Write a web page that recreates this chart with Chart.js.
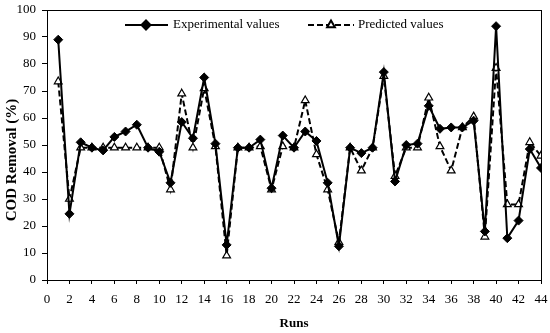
<!DOCTYPE html>
<html lang="en">
<head>
    <meta charset="UTF-8">
    <title>COD Removal</title>
    <script src="https://cdn.jsdelivr.net/npm/chart.js"></script>
    <style>
        html, body { margin: 0; padding: 0; background: #fff; }
    </style>
</head>
<body>
    <canvas id="codChart" width="550" height="333"></canvas>

    <script>
        // runs 1..44
        const runs = Array.from({ length: 44 }, (_, i) => i + 1);
        const experimental = [89, 24.5, 51, 49, 48, 53, 55, 57.5, 49, 47.5,
            36, 58.5, 52.5, 75, 50.5, 13, 49, 49, 52, 34,
            53.5, 49, 55, 51.5, 36, 12.5, 49, 47, 49, 77,
            36.5, 50, 50.5, 64.5, 56, 56.5, 56.5, 59, 18, 94,
            15.5, 22, 48.5, 41.5];
        const predicted = [73.5, 30, 49, 49, 49, 49, 49, 49, 49, 49,
            33.5, 69, 49, 71, 49.5, 9, 49, 49, 49.5, 33.5,
            49.5, 49, 66.5, 46.5, 33.5, 14, 49, 40.5, 49, 75.5,
            38.5, 49, 49, 67.5, 49.5, 40.5, 56.5, 60.5, 16, 78.5,
            28, 28, 51, 46];
        const xTicks = [0, 2, 4, 6, 8, 10, 12, 14, 16, 18, 20, 22, 24, 26, 28, 30, 32, 34, 36, 38, 40, 42, 44];
        const yTicks = [0, 10, 20, 30, 40, 50, 60, 70, 80, 90, 100];
        const yTitle = 'COD Removal (%)';

        const serif = 'Liberation Serif, Times New Roman, serif';

        // box round the plot, y title, legend inside the plot
        const framePlugin = {
            id: 'frame',
            afterDraw(chart) {
                const { ctx, chartArea: a } = chart;
                ctx.save();
                ctx.strokeStyle = '#000';
                ctx.lineWidth = 1;
                ctx.strokeRect(a.left + 0.5, a.top + 0.5, a.right - a.left, a.bottom - a.top);

                // y axis title (sits a bit below the plot middle, like the original)
                ctx.save();
                ctx.translate(12, 160);
                ctx.rotate(-Math.PI / 2);
                ctx.font = 'bold 15px ' + serif;
                ctx.textAlign = 'center';
                ctx.textBaseline = 'middle';
                ctx.fillStyle = '#000';
                ctx.fillText(yTitle, 0, 0);
                ctx.restore();

                const y = a.top + 15;
                ctx.font = '13px ' + serif;
                ctx.textBaseline = 'middle';
                ctx.fillStyle = '#000';

                // Experimental
                ctx.setLineDash([]);
                ctx.lineWidth = 2;
                ctx.beginPath();
                ctx.moveTo(125, y); ctx.lineTo(168, y);
                ctx.stroke();
                Chart.helpers.drawPoint(ctx, { pointStyle: 'rectRot', radius: 4.5, borderWidth: 1 }, 146, y);
                ctx.fillText(chart.data.datasets[0].label, 173, y);

                // Predicted
                ctx.setLineDash([6, 3]);
                ctx.lineWidth = 2;
                ctx.beginPath();
                ctx.moveTo(308, y); ctx.lineTo(354, y);
                ctx.stroke();
                ctx.setLineDash([]);
                ctx.fillStyle = '#fff';
                Chart.helpers.drawPoint(ctx, { pointStyle: 'triangle', radius: 4.5, borderWidth: 1.2 }, 331, y);
                ctx.fillStyle = '#000';
                ctx.fillText(chart.data.datasets[1].label, 358, y);
                ctx.restore();
            }
        };

        new Chart(document.getElementById('codChart'), {
            type: 'scatter',
            data: {
                datasets: [{
                    label: 'Experimental values',
                    data: runs.map((r, i) => ({ x: r, y: experimental[i] })),
                    showLine: true,
                    borderColor: '#000',
                    backgroundColor: '#000',
                    borderWidth: 2,
                    pointStyle: 'rectRot',
                    pointRadius: 4.5,
                    pointBorderWidth: 1
                }, {
                    label: 'Predicted values',
                    data: runs.map((r, i) => ({ x: r, y: predicted[i] })),
                    showLine: true,
                    borderColor: '#000',
                    backgroundColor: '#fff',
                    borderWidth: 2,
                    borderDash: [6, 3],
                    pointStyle: 'triangle',
                    pointRadius: 4.5,
                    pointBorderWidth: 1.2
                }]
            },
            options: {
                responsive: false,
                animation: false,
                layout: { padding: { top: 10, right: 9, left: 0, bottom: 0 } },
                plugins: {
                    legend: { display: false },
                    tooltip: { enabled: false }
                },
                scales: {
                    x: {
                        type: 'linear',
                        min: 0, max: 44,
                        afterBuildTicks: s => { s.ticks = xTicks.map(v => ({ value: v })); },
                        afterFit: s => { s.height = 53; s.paddingRight = 0; },
                        grid: { drawOnChartArea: false, color: '#000', tickLength: 4 },
                        border: { color: '#000', width: 1 },
                        ticks: { color: '#000', font: { family: serif, size: 13 }, padding: 8, maxRotation: 0, autoSkip: false },
                        title: { display: true, text: 'Runs', color: '#000', font: { family: serif, size: 13, weight: 'bold' }, padding: { top: 4, bottom: 2 } }
                    },
                    y: {
                        min: 0, max: 100,
                        afterBuildTicks: s => { s.ticks = yTicks.map(v => ({ value: v })); },
                        afterFit: s => { s.width = 47; s.paddingTop = 0; s.paddingBottom = 0; },
                        grid: { drawOnChartArea: false, color: '#000', tickLength: 5 },
                        border: { color: '#000', width: 1 },
                        ticks: { color: '#000', font: { family: serif, size: 13 }, padding: 6, autoSkip: false }
                    }
                }
            },
            plugins: [framePlugin]
        });
    </script>
</body>
</html>
